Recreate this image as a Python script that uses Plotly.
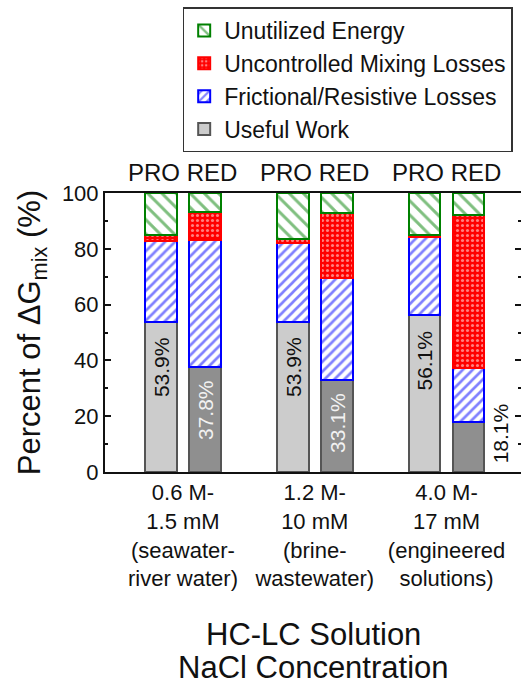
import plotly.graph_objects as go

# ---- data ----
groups = ["0.6 M-<br>1.5 mM<br>(seawater-<br>river water)",
          "1.2 M-<br>10 mM<br>(brine-<br>wastewater)",
          "4.0 M-<br>17 mM<br>(engineered<br>solutions)"]
processes = ["PRO", "RED"]
# order: PRO1, RED1, PRO2, RED2, PRO3, RED3
useful_work = [53.9, 37.8, 53.9, 33.1, 56.1, 18.1]
frictional = [28.8, 45.4, 28.1, 36.4, 28.1, 19.1]
mixing = [2.1, 10.0, 1.5, 23.3, 0.7, 54.8]
unutilized = [15.2, 6.8, 16.5, 7.2, 15.1, 8.0]
useful_labels = ["53.9%", "37.8%", "53.9%", "33.1%", "56.1%", "18.1%"]

# ---- positions ----
xpos = []
for g in range(len(groups)):
    for p in range(len(processes)):
        xpos.append(g * 3 + p)
group_centers = [g * 3 + 0.5 for g in range(len(groups))]
pro_idx = [i for i in range(len(xpos)) if i % 2 == 0]
red_idx = [i for i in range(len(xpos)) if i % 2 == 1]

FONT = "Liberation Sans, Arial, sans-serif"
BW = 0.72

fig = go.Figure()
fig.add_trace(go.Bar(
    x=[xpos[i] for i in pro_idx], y=[useful_work[i] for i in pro_idx], width=BW,
    name="Useful Work", legendgroup="useful",
    marker=dict(color="#cccccc", line=dict(color="#555555", width=2)),
))
fig.add_trace(go.Bar(
    x=[xpos[i] for i in red_idx], y=[useful_work[i] for i in red_idx], width=BW,
    name="Useful Work", legendgroup="useful", showlegend=False,
    marker=dict(color="#8f8f8f", line=dict(color="#555555", width=2)),
))
fig.add_trace(go.Bar(
    x=xpos, y=frictional, width=BW, name="Frictional/Resistive Losses",
    marker=dict(color="white", line=dict(color="#0000ff", width=2),
                pattern=dict(shape="/", fgcolor="#0000ff", bgcolor="white",
                             size=7, solidity=0.38)),
))
fig.add_trace(go.Bar(
    x=xpos, y=mixing, width=BW, name="Uncontrolled Mixing Losses",
    marker=dict(color="#ff0000", line=dict(color="#ff0000", width=2),
                pattern=dict(shape=".", fgcolor="white", bgcolor="#ff0000",
                             size=5, solidity=0.3)),
))
fig.add_trace(go.Bar(
    x=xpos, y=unutilized, width=BW, name="Unutilized Energy",
    marker=dict(color="white", line=dict(color="#008000", width=2),
                pattern=dict(shape="\\", fgcolor="#008000", bgcolor="white",
                             size=10, solidity=0.3)),
))
# invisible trace on the mirrored right axis
fig.add_trace(go.Scatter(x=[0], y=[0], yaxis="y2", showlegend=False,
                         mode="markers", marker=dict(opacity=0),
                         hoverinfo="skip"))

annotations = []
# PRO RED labels above groups
for gc in group_centers:
    annotations.append(dict(x=gc, y=1.0, xref="x", yref="paper", yanchor="bottom",
                            yshift=5, text="PRO RED", showarrow=False,
                            font=dict(family=FONT, size=24, color="#111111")))
# percentage labels (rotated)
label_y = [37.6, 22.2, 37.6, 17.5, 39.8, 13.9]
label_x = list(xpos)
label_x[-1] = xpos[-1] + 0.72
label_colors = ["#111111", "#f2f2f2", "#111111", "#f2f2f2", "#111111", "#111111"]
for lx, ly, t, c in zip(label_x, label_y, useful_labels, label_colors):
    annotations.append(dict(x=lx, y=ly, xref="x", yref="y", text=t, textangle=-90,
                            showarrow=False, xanchor="center", yanchor="middle",
                            font=dict(family=FONT, size=21, color=c)))
# x-axis title (two lines)
annotations.append(dict(x=0.5, y=0.0, xref="paper", yref="paper", yanchor="top",
                        yshift=-143, text="HC-LC Solution", showarrow=False,
                        font=dict(family=FONT, size=31, color="#111111")))
annotations.append(dict(x=0.5, y=0.0, xref="paper", yref="paper", yanchor="top",
                        yshift=-176, text="NaCl Concentration", showarrow=False,
                        font=dict(family=FONT, size=31, color="#111111")))

fig.update_layout(
    width=521, height=689,
    margin=dict(l=105, r=0, t=193, b=217, autoexpand=False),
    paper_bgcolor="white", plot_bgcolor="white",
    barmode="stack", bargap=0,
    font=dict(family=FONT, color="#111111"),
    showlegend=True,
    legend=dict(x=0.98, xanchor="right", y=1.665, yanchor="top",
                traceorder="reversed", bgcolor="white",
                bordercolor="#333333", borderwidth=1.5,
                font=dict(family=FONT, size=23, color="#111111"),
                tracegroupgap=0),
    xaxis=dict(range=[-1.275, 8.195], tickvals=group_centers, ticktext=groups,
               ticks="", showline=True, mirror=True, linecolor="#111111",
               linewidth=2, showgrid=False, zeroline=False, automargin=False,
               tickfont=dict(family=FONT, size=22, color="#111111")),
    yaxis=dict(range=[0, 100], tickvals=[0, 20, 40, 60, 80, 100], ticks="inside",
               ticklen=6, tickwidth=1.5, tickcolor="#111111",
               minor=dict(tickvals=[10, 30, 50, 70, 90], ticks="inside", ticklen=3,
                          tickwidth=1.5, tickcolor="#111111"),
               showline=True, linecolor="#111111", linewidth=2, showgrid=False,
               zeroline=False, automargin=False,
               tickfont=dict(family=FONT, size=22, color="#111111"),
               title=dict(text="Percent of \u0394G<sub>mix</sub> (%)", standoff=12,
                          font=dict(family=FONT, size=31, color="#111111"))),
    yaxis2=dict(range=[0, 100], overlaying="y", side="right",
                tickvals=[0, 20, 40, 60, 80, 100], ticks="inside", ticklen=6,
                tickwidth=1.5, tickcolor="#111111",
                minor=dict(tickvals=[10, 30, 50, 70, 90], ticks="inside", ticklen=3,
                           tickwidth=1.5, tickcolor="#111111"),
                showticklabels=False, showline=False, showgrid=False,
                zeroline=False, automargin=False),
    annotations=annotations,
)

fig.write_html("out.html", config={"displayModeBar": False},
               post_script="document.body.style.margin='0px';"
                           "document.body.style.overflow='hidden';")
